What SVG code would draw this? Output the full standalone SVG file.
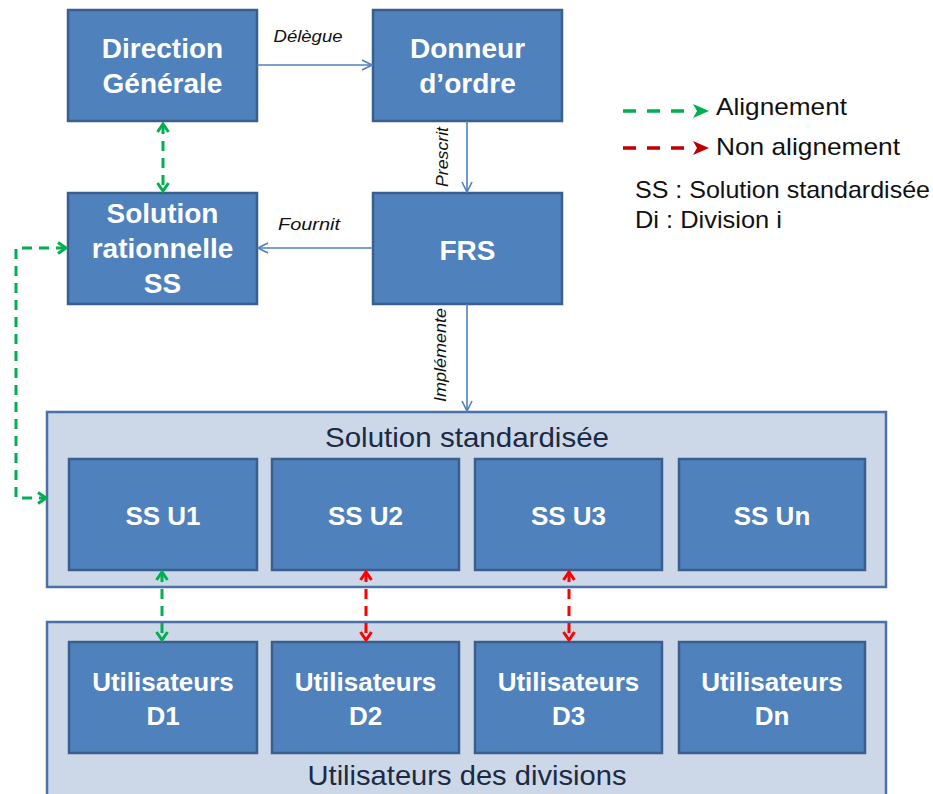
<svg xmlns="http://www.w3.org/2000/svg" width="933" height="794" viewBox="0 0 933 794">
<style>
.node{fill:#4f81bd;stroke:#3a5f8e;stroke-width:2.5}
.outer{fill:#ccd8e8;stroke:#4a72a6;stroke-width:2.5}
.nt{font-family:"Liberation Sans",Arial,sans-serif;font-weight:bold;fill:#fff;text-anchor:middle}
.ot{font-family:"Liberation Sans",Arial,sans-serif;fill:#1c2a44;text-anchor:middle;font-size:28px}
.lbl{font-family:"Liberation Sans",Arial,sans-serif;font-style:italic;fill:#111;font-size:17px;text-anchor:middle}
.leg{font-family:"Liberation Sans",Arial,sans-serif;fill:#111;font-size:24px}
.blue{stroke:#4f81bd;stroke-width:1.6;fill:none}
.gd{stroke:#00b050;stroke-width:3;fill:none;stroke-dasharray:10 7}
.rd{stroke:#ff0000;stroke-width:3;fill:none;stroke-dasharray:10 7}
</style>
<defs>
<marker id="ab" viewBox="0 0 12 12" refX="11" refY="6" markerWidth="12" markerHeight="12" markerUnits="userSpaceOnUse" orient="auto">
<path d="M1,1 L11,6 L1,11" fill="none" stroke="#4f81bd" stroke-width="1.6"/>
</marker>
<marker id="ag" viewBox="0 0 12 14" refX="10" refY="7" markerWidth="12" markerHeight="14" markerUnits="userSpaceOnUse" orient="auto-start-reverse">
<path d="M2,1.5 L10,7 L2,12.5" fill="none" stroke="#00b050" stroke-width="3"/>
</marker>
<marker id="ar" viewBox="0 0 12 14" refX="10" refY="7" markerWidth="12" markerHeight="14" markerUnits="userSpaceOnUse" orient="auto-start-reverse">
<path d="M2,1.5 L10,7 L2,12.5" fill="none" stroke="#ff0000" stroke-width="3"/>
</marker>
</defs>

<g id="outer-ss">
<rect class="outer" x="47" y="412" width="839" height="175"/>
<text class="ot" x="467" y="447" textLength="284" lengthAdjust="spacingAndGlyphs">Solution standardisée</text>
</g>
<g id="outer-ud">
<rect class="outer" x="47" y="622" width="839" height="185"/>
<text class="ot" x="467" y="785" textLength="319" lengthAdjust="spacingAndGlyphs">Utilisateurs des divisions</text>
</g>

<g id="dg">
<rect class="node" x="68" y="10" width="189" height="111"/>
<text class="nt" font-size="28" x="162.5" y="58">Direction</text>
<text class="nt" font-size="28" x="162.5" y="93">Générale</text>
</g>
<g id="do">
<rect class="node" x="373" y="10" width="189" height="111"/>
<text class="nt" font-size="28" x="467.5" y="58">Donneur</text>
<text class="nt" font-size="28" x="467.5" y="93">d’ordre</text>
</g>
<g id="sr">
<rect class="node" x="68" y="193" width="189" height="111"/>
<text class="nt" font-size="28" x="162.5" y="223">Solution</text>
<text class="nt" font-size="28" x="162.5" y="258">rationnelle</text>
<text class="nt" font-size="28" x="162.5" y="293">SS</text>
</g>
<g id="frs">
<rect class="node" x="373" y="193" width="189" height="111"/>
<text class="nt" font-size="28" x="467.5" y="260">FRS</text>
</g>

<g id="ssu1"><rect class="node" x="69" y="459" width="188" height="111"/><text class="nt" font-size="26" x="163" y="525">SS U1</text></g>
<g id="ssu2"><rect class="node" x="272" y="459" width="187" height="111"/><text class="nt" font-size="26" x="365.5" y="525">SS U2</text></g>
<g id="ssu3"><rect class="node" x="475" y="459" width="187" height="111"/><text class="nt" font-size="26" x="568.5" y="525">SS U3</text></g>
<g id="ssun"><rect class="node" x="679" y="459" width="186" height="111"/><text class="nt" font-size="26" x="772" y="525">SS Un</text></g>

<g id="ud1"><rect class="node" x="69" y="642" width="188" height="111"/><text class="nt" font-size="26" x="163" y="691">Utilisateurs</text><text class="nt" font-size="26" x="163" y="725">D1</text></g>
<g id="ud2"><rect class="node" x="272" y="642" width="187" height="111"/><text class="nt" font-size="26" x="365.5" y="691">Utilisateurs</text><text class="nt" font-size="26" x="365.5" y="725">D2</text></g>
<g id="ud3"><rect class="node" x="475" y="642" width="187" height="111"/><text class="nt" font-size="26" x="568.5" y="691">Utilisateurs</text><text class="nt" font-size="26" x="568.5" y="725">D3</text></g>
<g id="udn"><rect class="node" x="679" y="642" width="186" height="111"/><text class="nt" font-size="26" x="772" y="691">Utilisateurs</text><text class="nt" font-size="26" x="772" y="725">Dn</text></g>

<g id="connectors">
<path class="blue" d="M257,65 L372,65" marker-end="url(#ab)"/>
<path class="blue" d="M467,121 L467,192" marker-end="url(#ab)"/>
<path class="blue" d="M373,248 L258,248" marker-end="url(#ab)"/>
<path class="blue" d="M467,304 L467,411" marker-end="url(#ab)"/>
<text class="lbl" x="308" y="42" textLength="69" lengthAdjust="spacingAndGlyphs">Délègue</text>
<text class="lbl" x="309" y="230" textLength="62" lengthAdjust="spacingAndGlyphs">Fournit</text>
<text class="lbl" transform="translate(448,157) rotate(-90)" textLength="60" lengthAdjust="spacingAndGlyphs">Prescrit</text>
<text class="lbl" transform="translate(446,355) rotate(-90)" textLength="94" lengthAdjust="spacingAndGlyphs">Implémente</text>

<path class="gd" d="M163,124 L163,191" marker-start="url(#ag)" marker-end="url(#ag)"/>
<path class="gd" d="M66,248 L16,248 L16,498 L46,498" marker-start="url(#ag)" marker-end="url(#ag)"/>
<path class="gd" d="M162,572 L162,640" marker-start="url(#ag)" marker-end="url(#ag)"/>
<path class="rd" d="M366,572 L366,640" marker-start="url(#ar)" marker-end="url(#ar)"/>
<path class="rd" d="M569,572 L569,640" marker-start="url(#ar)" marker-end="url(#ar)"/>
</g>

<g id="legend">
<path d="M623,111 L692,111" stroke="#00b050" stroke-width="3.5" stroke-dasharray="13 11" fill="none"/>
<polygon points="693,104 709,111 693,118 697,111" fill="#00b050"/>
<text class="leg" x="716" y="115" textLength="131" lengthAdjust="spacingAndGlyphs">Alignement</text>
<path d="M623,148 L692,148" stroke="#c00000" stroke-width="3.5" stroke-dasharray="13 11" fill="none"/>
<polygon points="693,141 709,148 693,155 697,148" fill="#c00000"/>
<text class="leg" x="716" y="155" textLength="184" lengthAdjust="spacingAndGlyphs">Non alignement</text>
<text class="leg" x="635" y="198" textLength="295" lengthAdjust="spacingAndGlyphs">SS : Solution standardisée</text>
<text class="leg" x="635" y="228" textLength="147" lengthAdjust="spacingAndGlyphs">Di : Division i</text>
</g>
</svg>
